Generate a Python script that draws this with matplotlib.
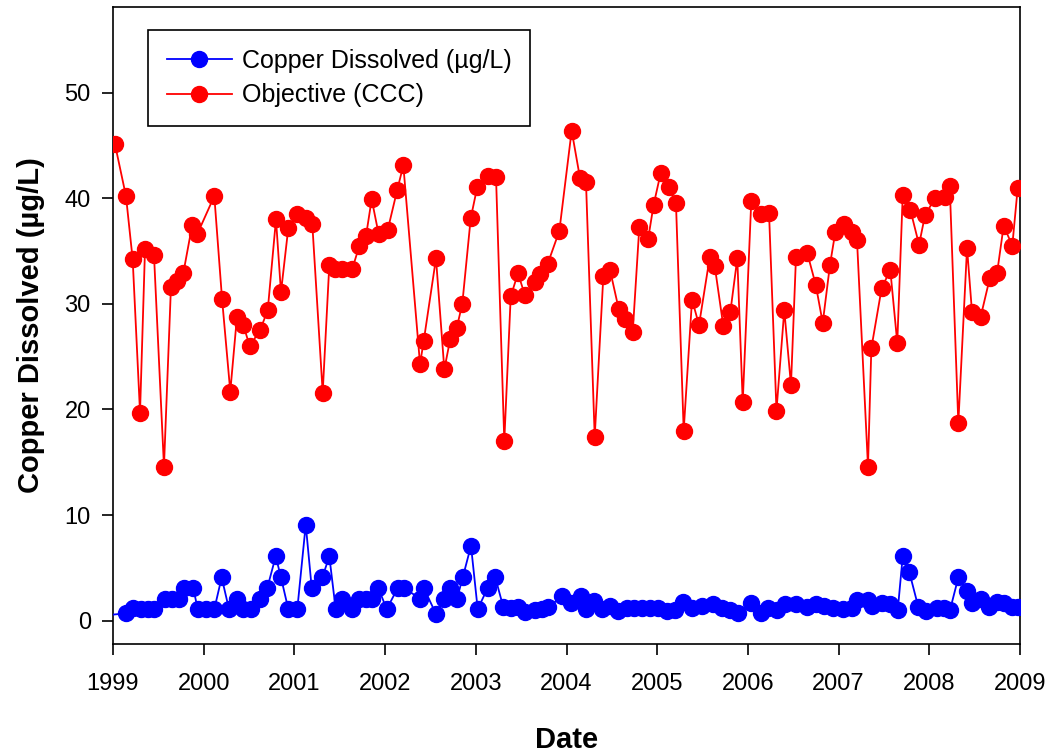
import matplotlib
matplotlib.use("Agg")
import matplotlib.pyplot as plt

plt.rcParams['font.family'] = ['Liberation Sans', 'DejaVu Sans']

# Objective (CCC) series
ccc_dates = [1999.022, 1999.143, 1999.217, 1999.298, 1999.353, 1999.452, 1999.562, 1999.639, 1999.709, 1999.775,
             1999.874, 1999.929, 2000.117, 2000.202, 2000.293, 2000.367, 2000.437, 2000.507, 2000.621, 2000.706,
             2000.797, 2000.852, 2000.933, 2001.025, 2001.125, 2001.197, 2001.312, 2001.385, 2001.448, 2001.521,
             2001.638, 2001.716, 2001.789, 2001.852, 2001.929, 2002.029, 2002.134, 2002.201, 2002.385, 2002.426,
             2002.561, 2002.653, 2002.719, 2002.789, 2002.851, 2002.944, 2003.017, 2003.138, 2003.223, 2003.314,
             2003.385, 2003.465, 2003.542, 2003.653, 2003.708, 2003.793, 2003.921, 2004.057, 2004.149, 2004.215,
             2004.311, 2004.406, 2004.480, 2004.576, 2004.648, 2004.730, 2004.803, 2004.899, 2004.961, 2005.039,
             2005.133, 2005.207, 2005.292, 2005.384, 2005.461, 2005.579, 2005.634, 2005.729, 2005.806, 2005.883,
             2005.943, 2006.037, 2006.144, 2006.233, 2006.315, 2006.401, 2006.475, 2006.530, 2006.655, 2006.748,
             2006.825, 2006.905, 2006.964, 2007.056, 2007.151, 2007.203, 2007.324, 2007.361, 2007.475, 2007.570,
             2007.647, 2007.707, 2007.791, 2007.887, 2007.953, 2008.063, 2008.173, 2008.225, 2008.320, 2008.416,
             2008.471, 2008.567, 2008.666, 2008.747, 2008.820, 2008.915, 2008.975]
ccc_values = [45.1, 40.2, 34.2, 19.7, 35.2, 34.6, 14.6, 31.6, 32.2, 32.9,
              37.5, 36.6, 40.2, 30.5, 21.7, 28.8, 28.0, 26.0, 27.5, 29.4,
              38.0, 31.1, 37.2, 38.5, 38.1, 37.6, 21.6, 33.7, 33.3, 33.3,
              33.3, 35.5, 36.4, 39.9, 36.6, 37.0, 40.8, 43.1, 24.3, 26.5,
              34.3, 23.8, 26.7, 27.7, 30.0, 38.1, 41.1, 42.1, 42.0, 17.0,
              30.7, 32.9, 30.8, 32.1, 32.8, 33.8, 36.9, 46.4, 41.9, 41.5,
              17.4, 32.6, 33.2, 29.5, 28.6, 27.3, 37.3, 36.1, 39.4, 42.4,
              41.1, 39.5, 18.0, 30.4, 28.0, 34.4, 33.6, 27.9, 29.2, 34.3,
              20.7, 39.7, 38.5, 38.6, 19.9, 29.4, 22.3, 34.4, 34.8, 31.8,
              28.2, 33.7, 36.8, 37.6, 36.8, 36.0, 14.6, 25.8, 31.5, 33.2,
              26.3, 40.3, 38.9, 35.6, 38.4, 40.0, 40.1, 41.2, 18.7, 35.3,
              29.2, 28.8, 32.4, 32.9, 37.4, 35.5, 41.0]

# Copper Dissolved series
cu_dates = [1998.90, 1999.140, 1999.224, 1999.309, 1999.383, 1999.455, 1999.573, 1999.647, 1999.728, 1999.786,
            1999.885, 1999.934, 2000.025, 2000.117, 2000.198, 2000.279, 2000.370, 2000.437, 2000.518, 2000.621,
            2000.701, 2000.794, 2000.852, 2000.933, 2001.032, 2001.125, 2001.191, 2001.308, 2001.385, 2001.455,
            2001.528, 2001.638, 2001.712, 2001.786, 2001.852, 2001.925, 2002.018, 2002.139, 2002.208, 2002.385,
            2002.426, 2002.564, 2002.649, 2002.716, 2002.793, 2002.856, 2002.947, 2003.021, 2003.131, 2003.215,
            2003.303, 2003.385, 2003.465, 2003.539, 2003.653, 2003.727, 2003.800, 2003.950, 2004.050, 2004.157,
            2004.212, 2004.307, 2004.395, 2004.480, 2004.571, 2004.664, 2004.744, 2004.836, 2004.921, 2005.006,
            2005.105, 2005.197, 2005.288, 2005.380, 2005.491, 2005.618, 2005.711, 2005.803, 2005.888, 2006.034,
            2006.141, 2006.225, 2006.318, 2006.409, 2006.530, 2006.648, 2006.748, 2006.839, 2006.942, 2007.052,
            2007.151, 2007.200, 2007.328, 2007.365, 2007.475, 2007.567, 2007.652, 2007.707, 2007.780, 2007.879,
            2007.961, 2008.082, 2008.162, 2008.228, 2008.320, 2008.412, 2008.467, 2008.570, 2008.662, 2008.743,
            2008.823, 2008.915, 2008.981]
cu_values = [0.5, 0.7, 1.2, 1.1, 1.1, 1.1, 2.1, 2.1, 2.1, 3.1,
             3.1, 1.1, 1.1, 1.1, 4.1, 1.1, 2.1, 1.1, 1.1, 2.1,
             3.1, 6.1, 4.1, 1.1, 1.1, 9.1, 3.1, 4.1, 6.1, 1.1,
             2.1, 1.1, 2.1, 2.1, 2.1, 3.1, 1.1, 3.1, 3.1, 2.1,
             3.1, 0.6, 2.1, 3.1, 2.1, 4.1, 7.1, 1.1, 3.1, 4.1,
             1.3, 1.2, 1.3, 0.8, 1.0, 1.1, 1.3, 2.3, 1.7, 2.3,
             1.1, 1.9, 1.1, 1.4, 0.9, 1.2, 1.2, 1.2, 1.2, 1.2,
             0.9, 1.0, 1.8, 1.2, 1.4, 1.6, 1.2, 1.0, 0.7, 1.7,
             0.7, 1.2, 1.0, 1.6, 1.6, 1.3, 1.6, 1.4, 1.2, 1.1,
             1.2, 2.0, 2.0, 1.4, 1.7, 1.6, 1.0, 6.1, 4.6, 1.3,
             0.9, 1.2, 1.2, 1.0, 4.1, 2.8, 1.7, 2.1, 1.3, 1.8,
             1.7, 1.3, 1.3]

x_ticks = list(range(1999, 2010))
y_ticks = [0, 10, 20, 30, 40, 50]

fig = plt.figure(figsize=(10.47, 7.52), dpi=100)
ax = fig.add_axes([113 / 1047, 1 - 644 / 752, 907 / 1047, 637 / 752])

ax.plot(cu_dates, cu_values, color='#0000FF', lw=1.3, marker='o', ms=11.5,
        mec='#0000FF', mfc='#0000FF', label='Copper Dissolved (µg/L)', zorder=3)
ax.plot(ccc_dates, ccc_values, color='#FF0000', lw=1.3, marker='o', ms=11.5,
        mec='#FF0000', mfc='#FF0000', label='Objective (CCC)', zorder=3)

ax.set_xlim(1999, 2009)
ax.set_ylim(-2.2, 58.1)
ax.set_xticks(x_ticks)
ax.set_xticklabels([str(t) for t in x_ticks])
ax.set_yticks(y_ticks)
ax.tick_params(axis='both', direction='out', length=8, width=1.2, labelsize=17, color='black')
ax.tick_params(axis='x', pad=13)
ax.tick_params(axis='y', pad=8)
for s in ax.spines.values():
    s.set_linewidth(1.2)

ax.set_xlabel('Date', fontsize=21, fontweight='bold', labelpad=22)
ax.set_ylabel('Copper Dissolved (µg/L)', fontsize=21, fontweight='bold', labelpad=14)

leg = ax.legend(loc='upper left', bbox_to_anchor=((148 - 113) / 907, (644 - 30) / 637),
                borderaxespad=0, fontsize=18, frameon=True, fancybox=False, shadow=False,
                handlelength=2.6, handletextpad=0.4, borderpad=0.75, labelspacing=0.42)
leg.get_frame().set_edgecolor('black')
leg.get_frame().set_linewidth(1.2)
leg.get_frame().set_alpha(1)

fig.savefig('out.png', dpi=100)
